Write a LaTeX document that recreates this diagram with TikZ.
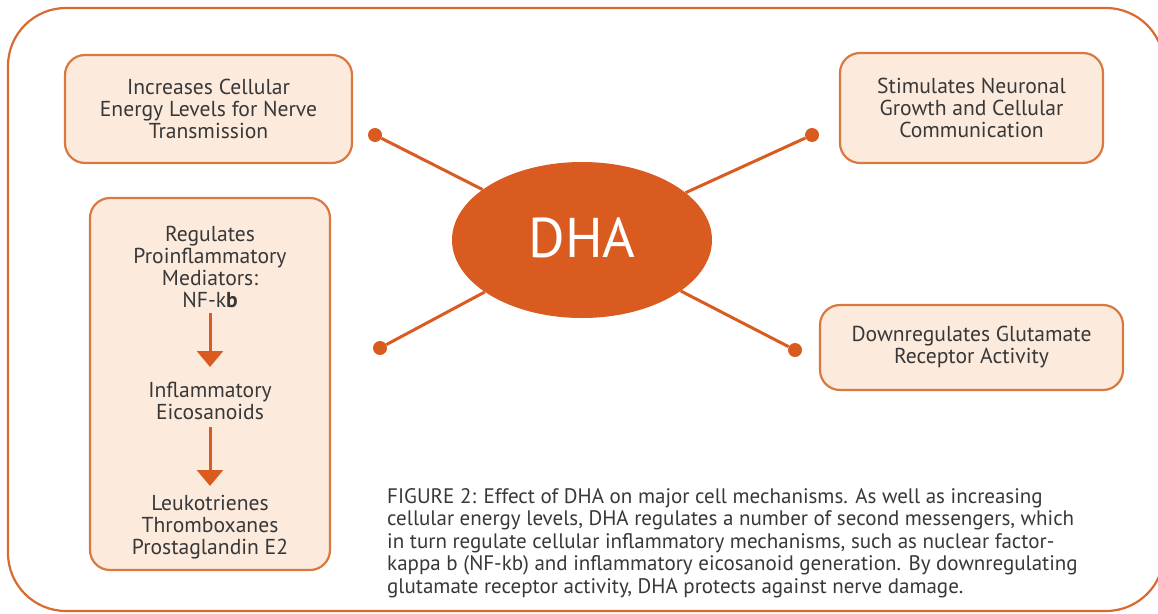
\documentclass[tikz,border=0pt]{standalone}
\usepackage{fontspec}
\setmainfont{PT Sans}
\usetikzlibrary{shapes.geometric,arrows.meta}
\definecolor{frameor}{HTML}{D96A30}
\definecolor{boxline}{HTML}{D9783F}
\definecolor{boxfill}{HTML}{FCEADD}
\definecolor{dhaor}{HTML}{D95B20}
\definecolor{txt}{HTML}{383838}
\tikzset{
  infobox/.style={draw=boxline, line width=2.2pt, fill=boxfill, rounded corners=20pt, inner sep=0pt},
  boxtext/.style={text=txt, align=center, font=\fontsize{21.6}{22}\selectfont, inner sep=0pt},
  dotnode/.style={circle, fill=dhaor, minimum size=14pt, inner sep=0pt},
  spoke/.style={draw=dhaor, line width=3pt},
  flowarrow/.style={draw=dhaor, line width=3pt, -{Triangle[width=26pt,length=16pt]}},
}
\begin{document}
\begin{tikzpicture}[x=1pt,y=-1pt]
\useasboundingbox (0,0) rectangle (1158,613);
\fill[white] (0,0) rectangle (1158,613);
% outer frame
\draw[draw=frameor, line width=2.2pt, rounded corners=58pt] (8,8) rectangle (1164,611);
% boxes
\node[infobox, minimum width=287pt, minimum height=108pt] (b1) at (208.5,109) {};
\node[boxtext] (t1) at (b1.center) {Increases Cellular\\Energy Levels for Nerve\\Transmission};
\node[infobox, minimum width=263pt, minimum height=110pt] (b2) at (971.5,108) {};
\node[boxtext] (t2) at (b2.center) {Stimulates Neuronal\\Growth and Cellular\\Communication};
\node[infobox, minimum width=303pt, minimum height=85pt] (b4) at (971.5,347.5) {};
\node[boxtext] (t4) at (b4.center) {Downregulates Glutamate\\Receptor Activity};
\node[infobox, minimum width=240pt, minimum height=372pt] (b3) at (210,384) {};
\node[boxtext] (t3a) at (210,266.5) {Regulates\\Proinflammatory\\Mediators:\\NF-k\textbf{b}};
\node[boxtext] (t3b) at (210,401) {Inflammatory\\Eicosanoids};
\node[boxtext] (t3c) at (210,527) {Leukotrienes\\Thromboxanes\\Prostaglandin E2};
\coordinate (a1s) at (210,313);
\coordinate (a1e) at (210,367);
\coordinate (a2s) at (210,427);
\coordinate (a2e) at (210,486);
\draw[flowarrow] (a1s) -- (a1e);
\draw[flowarrow] (a2s) -- (a2e);
% DHA
\node[ellipse, fill=dhaor, minimum width=260pt, minimum height=156pt, inner sep=0pt] (dha) at (582,240) {};
\node[dotnode] (d1) at (375,135) {};
\node[dotnode] (d2) at (812,135) {};
\node[dotnode] (d3) at (380,348) {};
\node[dotnode] (d4) at (795,350) {};
\draw[spoke] (d1) -- (dha);
\draw[spoke] (d2) -- (dha);
\draw[spoke] (d3) -- (dha);
\draw[spoke] (d4) -- (dha);
\node[text=white, font=\fontsize{56}{60}\selectfont, inner sep=0pt] (dhat) at (582,238) {DHA};
% caption
\node[anchor=north west, align=left, text=txt, font=\fontsize{21}{22.6}\selectfont, inner sep=0pt] (cap) at (387,488) {FIGURE 2: Effect of DHA on major cell mechanisms. As well as increasing\\cellular energy levels, DHA regulates a number of second messengers, which\\in turn regulate cellular inflammatory mechanisms, such as nuclear factor-\\kappa b (NF-kb) and inflammatory eicosanoid generation. By downregulating\\glutamate receptor activity, DHA protects against nerve damage.};
\end{tikzpicture}
\end{document}
